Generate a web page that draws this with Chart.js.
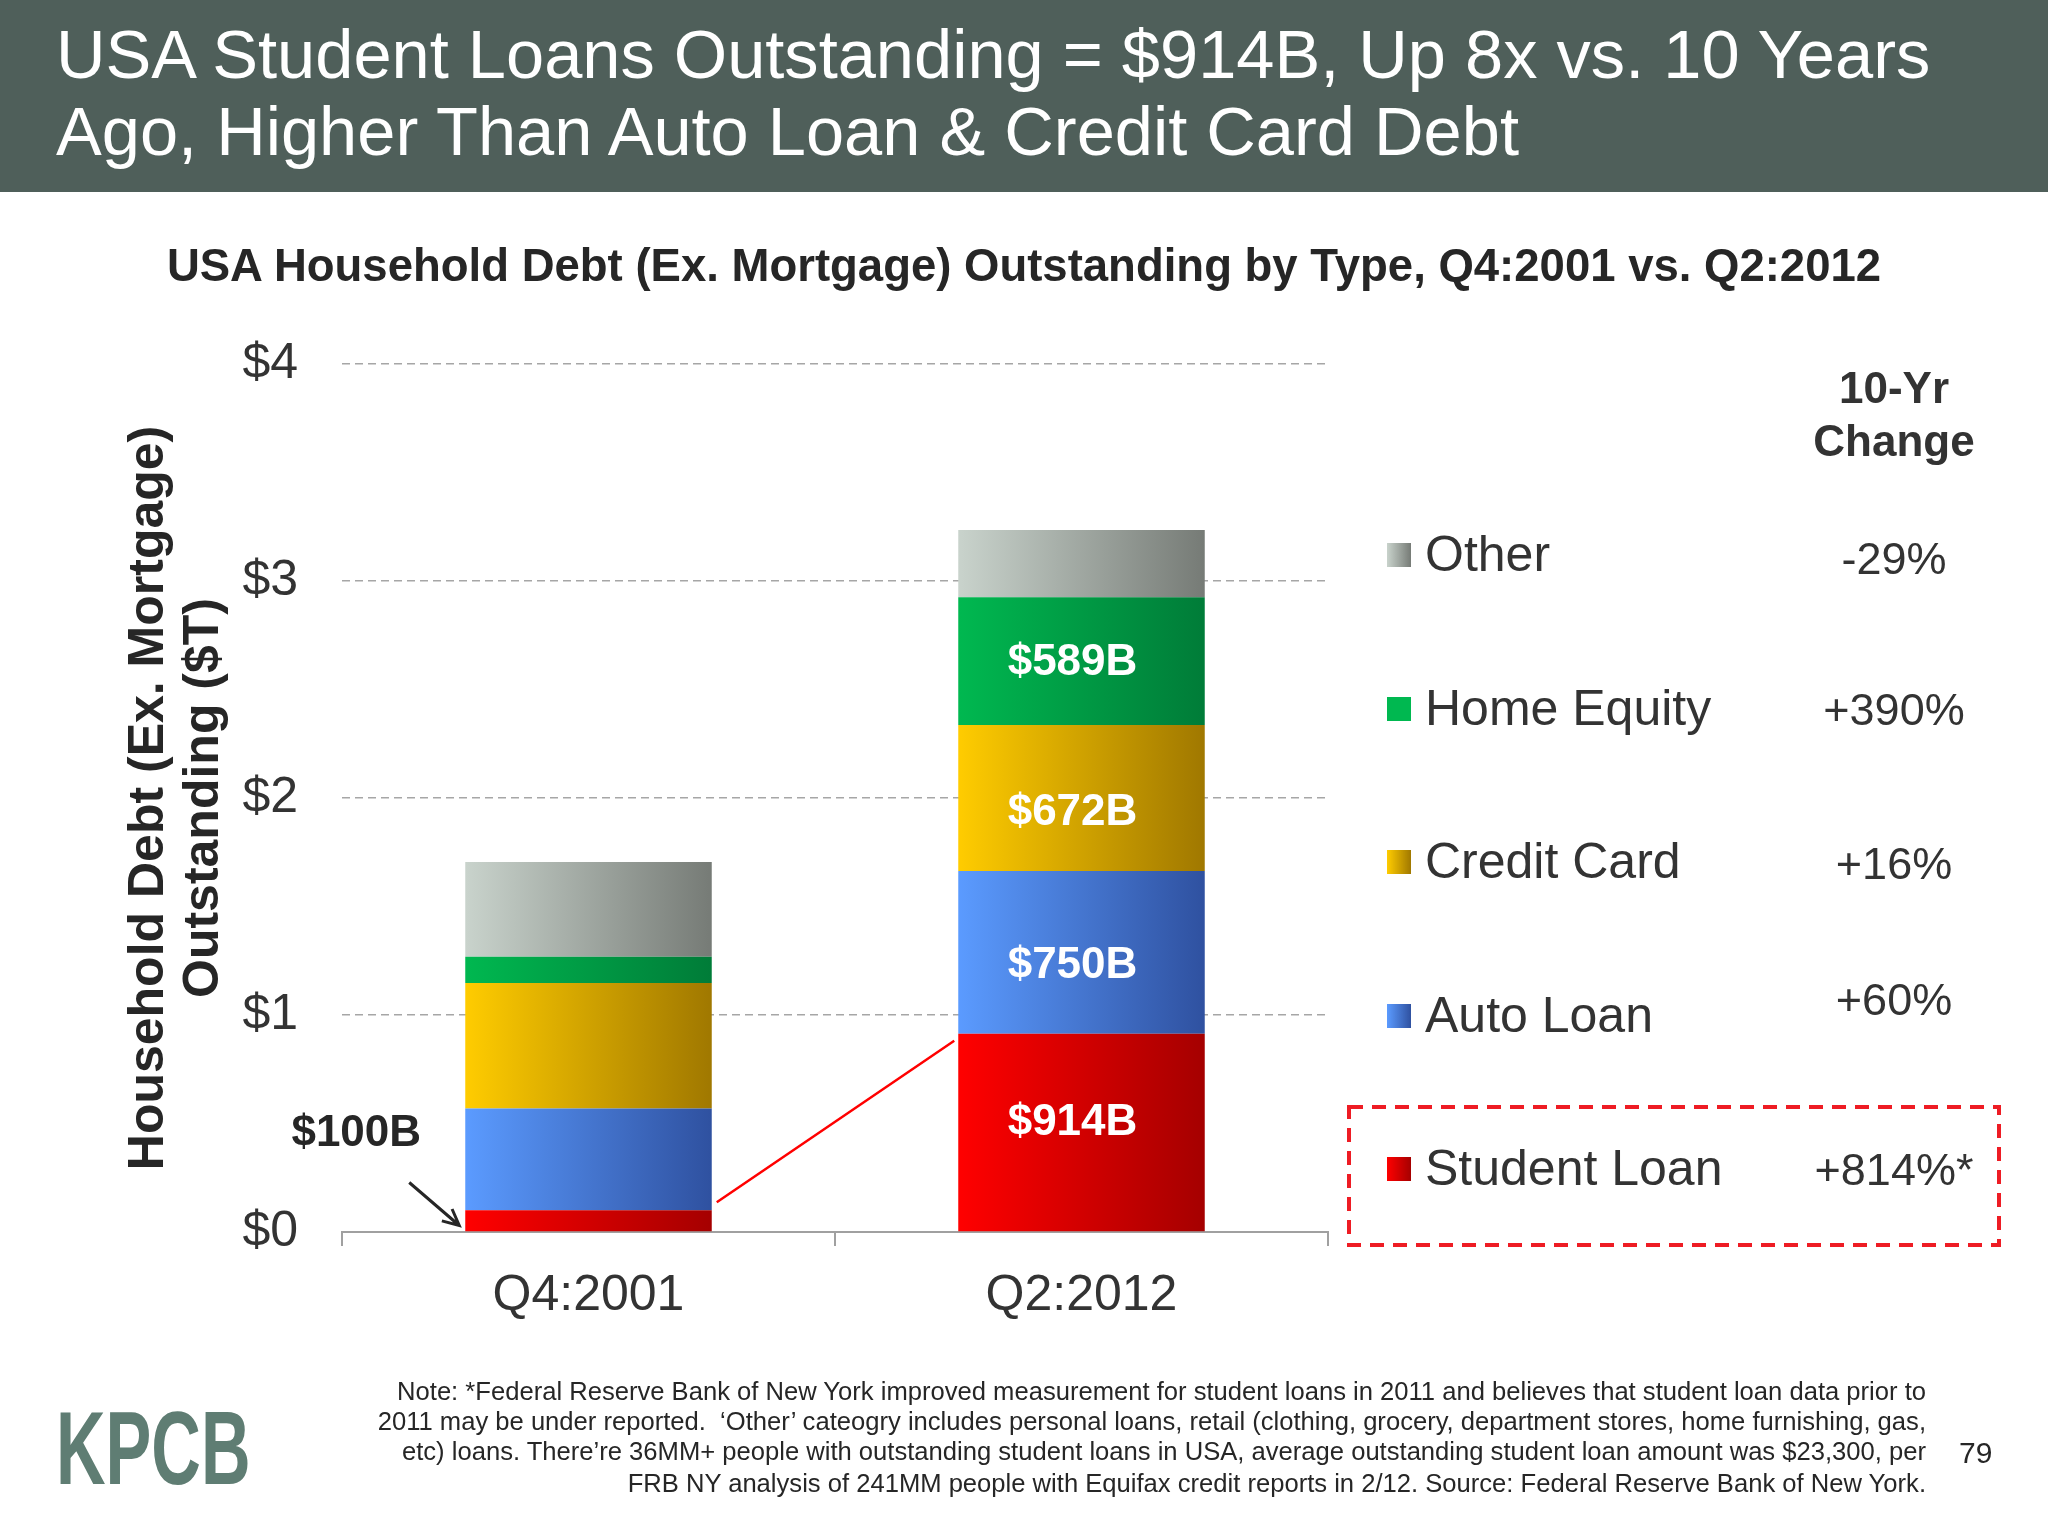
<!DOCTYPE html>
<html>
<head>
<meta charset="utf-8">
<script src="https://cdn.jsdelivr.net/npm/chart.js@4.4.1/dist/chart.umd.min.js"></script>
<style>
  body { margin: 0; width: 2048px; height: 1536px; overflow: hidden; background: #fff; font-family: 'Liberation Sans', Arial, sans-serif; position: relative; }
  #wrap { position: absolute; left: 0; top: 0; width: 2048px; height: 1536px; }
  .hdr { position: absolute; left: 0; top: 0; width: 2048px; height: 192px; background: #4f5f5a; }
  .t { position: absolute; line-height: 1; white-space: nowrap; transform: translateY(-50%); }
  .title { left: 56px; color: #fff; font-size: 68.6px; }
  .sub { left: 0; width: 2048px; text-align: center; font-size: 45.5px; font-weight: bold; color: #262626; }
  .leg { left: 1425px; font-size: 50px; color: #333; }
  .mark { position: absolute; left: 1387px; width: 24px; height: 24px; transform: translateY(-50%); }
  .chg { left: 1894px; font-size: 45px; color: #333; transform: translate(-50%, -50%); }
  .chgh { left: 1894px; font-size: 44px; font-weight: bold; color: #333; transform: translate(-50%, -50%); }
  .note { right: 122px; font-size: 25.6px; color: #262626; text-align: right; }
  .logo { left: 56px; top: 1448px; font-family: 'Liberation Sans Narrow', 'Liberation Sans', sans-serif; font-weight: bold; font-size: 104px; color: #5f7d73; transform-origin: left center; transform: translateY(-50%) scaleX(0.66); }
</style>
</head>
<body>
<div id="wrap"><canvas id="debtChart"></canvas></div>
<div class="hdr"></div>
<div class="t title" style="top:55px">USA Student Loans Outstanding = $914B, Up 8x vs. 10 Years</div>
<div class="t title" style="top:132px">Ago, Higher Than Auto Loan &amp; Credit Card Debt</div>
<div class="t sub" style="top:266px">USA Household Debt (Ex. Mortgage) Outstanding by Type, Q4:2001 vs. Q2:2012</div>
<div class="t chgh" style="top:388px">10-Yr</div>
<div class="t chgh" style="top:441px">Change</div>
<div id="legend"></div>
<svg style="position:absolute;left:0;top:0" width="2048" height="1536">
  <rect x="1349" y="1107" width="650" height="138" fill="none" stroke="#ee1c24" stroke-width="4" stroke-dasharray="14 9"/>
</svg>
<div class="t note" style="top:1392px">Note: *Federal Reserve Bank of New York improved measurement for student loans in 2011 and believes that student loan data prior to</div>
<div class="t note" style="top:1422px">2011 may be under reported.&nbsp; ‘Other’ cateogry includes personal loans, retail (clothing, grocery, department stores, home furnishing, gas,</div>
<div class="t note" style="top:1452px">etc) loans. There’re 36MM+ people with outstanding student loans in USA, average outstanding student loan amount was $23,300, per</div>
<div class="t note" style="top:1484px">FRB NY analysis of 241MM people with Equifax credit reports in 2/12. Source: Federal Reserve Bank of New York.</div>
<div class="t" style="left:1959px;top:1453px;font-size:30px;color:#262626">79</div>
<div class="t logo">KPCB</div>

<script>
// Data ($T)
const categories = ['Q4:2001', 'Q2:2012'];
const studentLoan = [0.100, 0.914];
const autoLoan = [0.469, 0.750];
const creditCard = [0.579, 0.672];
const homeEquity = [0.120, 0.589];
const otherDebt = [0.437, 0.310];
const seriesNames = ['Student Loan', 'Auto Loan', 'Credit Card', 'Home Equity', 'Other'];
const tenYrChange = ['+814%*', '+60%', '+16%', '+390%', '-29%'];
const yTickLabels = ['$0', '$1', '$2', '$3', '$4'];

// gradient stops per series, left -> right
const fills = [
    ['#ff0000', '#a50000'],
    ['#5b9bff', '#2f51a0'],
    ['#ffcc00', '#a07800'],
    ['#00b850', '#007c38'],
    ['#c9d3cc', '#767b76']
];

const BAR_PCT = 0.5;
// vertical nudge of the value labels inside the 2012 bar (px)
const labelNudge = [-12, 12, 13, 0];

function barFill(stops) {
    return function(c) {
        const chart = c.chart;
        const x = chart.scales.x;
        if (c.type !== 'data' || !x || !chart.chartArea) return stops[0];
        const bw = x.width / categories.length * BAR_PCT;
        const cx = x.getPixelForValue(c.dataIndex);
        const g = chart.ctx.createLinearGradient(cx - bw / 2, 0, cx + bw / 2, 0);
        g.addColorStop(0, stops[0]);
        g.addColorStop(1, stops[1]);
        return g;
    };
}

const seriesData = [studentLoan, autoLoan, creditCard, homeEquity, otherDebt];

// legend (html)
const legRowY = [1168, 1015, 861, 708, 554];
const chgRowY = [1169, 999, 863, 709, 558];
const legend = document.getElementById('legend');
seriesNames.forEach((name, i) => {
    const m = document.createElement('div');
    m.className = 'mark';
    m.style.top = (legRowY[i] + 1) + 'px';
    m.style.background = i === 3 ? fills[i][0] : `linear-gradient(to right, ${fills[i][0]}, ${fills[i][1]})`;
    legend.appendChild(m);
    const l = document.createElement('div');
    l.className = 't leg';
    l.style.top = legRowY[i] + 'px';
    l.textContent = name;
    legend.appendChild(l);
    const v = document.createElement('div');
    v.className = 't chg';
    v.style.top = chgRowY[i] + 'px';
    v.textContent = tenYrChange[i];
    legend.appendChild(v);
});

// labels inside the Q2:2012 bar + annotation for $100B
const annotations = {
    id: 'annotations',
    afterDatasetsDraw(chart) {
        const { ctx, scales: { x, y } } = chart;
        ctx.save();
        ctx.fillStyle = '#fff';
        ctx.font = 'bold 44px "Liberation Sans", Arial, sans-serif';
        ctx.textAlign = 'center';
        ctx.textBaseline = 'middle';
        for (let i = 0; i < 4; i++) {
            const el = chart.getDatasetMeta(i).data[1];
            const v = seriesData[i][1];
            ctx.fillText('$' + Math.round(v * 1000) + 'B', el.x - 9, (el.y + el.base) / 2 + 2 + labelNudge[i]);
        }

        const bw = x.width / categories.length * BAR_PCT;
        const left0 = x.getPixelForValue(0) - bw / 2;
        const right0 = x.getPixelForValue(0) + bw / 2;
        const left1 = x.getPixelForValue(1) - bw / 2;

        // red connector
        ctx.strokeStyle = '#ff0000';
        ctx.lineWidth = 2.5;
        ctx.beginPath();
        ctx.moveTo(right0 + 5, y.getPixelForValue(studentLoan[0]) - 8);
        ctx.lineTo(left1 - 4, y.getPixelForValue(studentLoan[1]) + 7);
        ctx.stroke();

        // arrow
        const tx = left0 - 6, ty = y.getPixelForValue(studentLoan[0] * 0.3);
        const sx = tx - 50, sy = ty - 43;
        const ang = Math.atan2(ty - sy, tx - sx);
        ctx.strokeStyle = '#262626';
        ctx.lineWidth = 3;
        ctx.beginPath();
        ctx.moveTo(sx, sy);
        ctx.lineTo(tx, ty);
        ctx.moveTo(tx - 18 * Math.cos(ang - 0.45), ty - 18 * Math.sin(ang - 0.45));
        ctx.lineTo(tx, ty);
        ctx.lineTo(tx - 18 * Math.cos(ang + 0.45), ty - 18 * Math.sin(ang + 0.45));
        ctx.stroke();

        ctx.fillStyle = '#262626';
        ctx.fillText('$' + Math.round(studentLoan[0] * 1000) + 'B', left0 - 109, y.getPixelForValue(0.45));
        ctx.restore();
    }
};

const ctx = document.getElementById('debtChart').getContext('2d');
const debtChart = new Chart(ctx, {
    type: 'bar',
    data: {
        labels: categories,
        datasets: seriesNames.map((name, i) => ({
            label: name,
            data: seriesData[i],
            backgroundColor: barFill(fills[i]),
            borderWidth: 0,
            barPercentage: BAR_PCT,
            categoryPercentage: 1
        }))
    },
    options: {
        responsive: true,
        maintainAspectRatio: false,
        animation: false,
        layout: { padding: { left: 100, top: 364, right: 720, bottom: 184 } },
        plugins: { legend: { display: false }, tooltip: { enabled: false } },
        scales: {
            x: {
                stacked: true,
                afterFit(s) { s.height = 120; },
                grid: { drawOnChartArea: false, drawTicks: true, tickLength: 14, color: '#a0a0a0', lineWidth: 2 },
                border: { display: true, color: '#a0a0a0', width: 2 },
                ticks: { color: '#333', padding: 20, font: { size: 50, family: '"Liberation Sans", Arial, sans-serif' } }
            },
            y: {
                stacked: true,
                min: 0,
                max: 4,
                afterFit(s) { s.width = 242; },
                grid: {
                    drawTicks: false,
                    lineWidth: 1.5,
                    color: c => (c.tick && c.tick.value === 0) ? 'rgba(0,0,0,0)' : '#a6a6a6'
                },
                border: { display: false, dash: [8, 5] },
                ticks: {
                    stepSize: 1,
                    padding: 44,
                    color: '#333',
                    font: { size: 50, family: '"Liberation Sans", Arial, sans-serif' },
                    callback: v => yTickLabels[v]
                },
                title: {
                    display: true,
                    text: ['Household Debt (Ex. Mortgage)', 'Outstanding ($T)'],
                    color: '#262626',
                    padding: { top: 22, bottom: 0 },
                    font: { size: 50, weight: 'bold', lineHeight: 1.1, family: '"Liberation Sans", Arial, sans-serif' }
                }
            }
        }
    },
    plugins: [annotations]
});
</script>
</body>
</html>
